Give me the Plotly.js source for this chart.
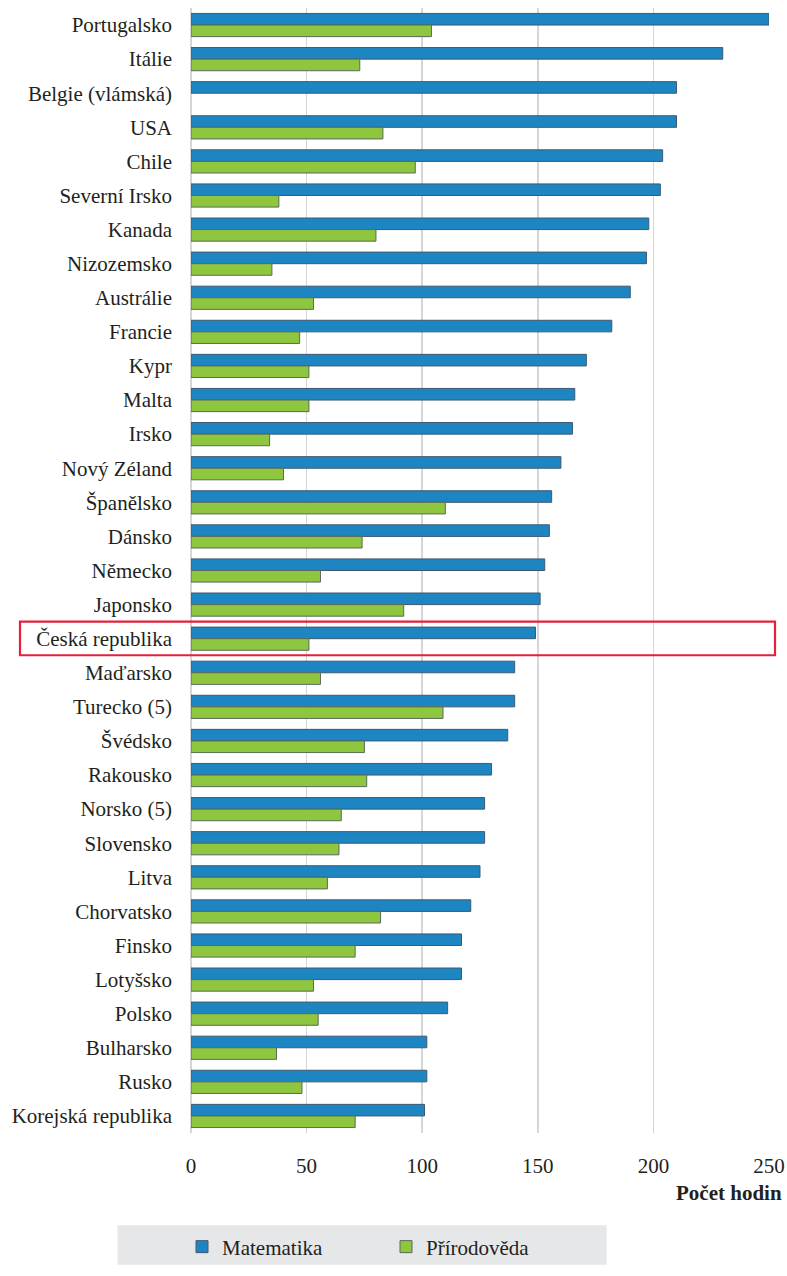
<!DOCTYPE html>
<html>
<head>
<meta charset="utf-8">
<script src="https://cdn.plot.ly/plotly-3.0.1.min.js"></script>
<style>
html,body{margin:0;padding:0;background:#fff;}
#chart{width:787px;height:1276px;}
</style>
</head>
<body>
<div id="chart"></div>
<script>
const countries = ["Portugalsko","Itálie","Belgie (vlámská)","USA","Chile","Severní Irsko","Kanada","Nizozemsko","Austrálie","Francie","Kypr","Malta","Irsko","Nový Zéland","Španělsko","Dánsko","Německo","Japonsko","Česká republika","Maďarsko","Turecko (5)","Švédsko","Rakousko","Norsko (5)","Slovensko","Litva","Chorvatsko","Finsko","Lotyšsko","Polsko","Bulharsko","Rusko","Korejská republika"];
const matematika = [250,230,210,210,204,203,198,197,190,182,171,166,165,160,156,155,153,151,149,140,140,137,130,127,127,125,121,117,117,111,102,102,101];
const prirodoveda = [104,73,null,83,97,38,80,35,53,47,51,51,34,40,110,74,56,92,51,56,109,75,76,65,64,59,82,71,53,55,37,48,71];
const xTicks = [0,50,100,150,200,250];
const seriesNames = ["Matematika","Přírodověda"];
const axisTitle = "Počet hodin";

const FONT = "'Liberation Serif', 'Times New Roman', Times, serif";
const W = 787, H = 1276;
const L = 191, R = 18, T = 8, B = 133;
const PW = W - L - R, PH = H - T - B;
const px2x = X => (X - L) / PW;
const px2y = Y => (H - B - Y) / PH;

const traces = [
  {type:'bar', orientation:'h', name:seriesNames[0], y:countries, x:matematika,
   marker:{color:'#1d86c2', line:{color:'#3e5a72', width:1}}, legend:'legend', hoverinfo:'skip'},
  {type:'bar', orientation:'h', name:seriesNames[1], y:countries, x:prirodoveda,
   marker:{color:'#8fc63f', line:{color:'#5a6a5a', width:1}}, legend:'legend2', hoverinfo:'skip'}
];

const layout = {
  width:W, height:H,
  margin:{l:L, r:R, t:T, b:B, pad:0},
  paper_bgcolor:'#ffffff', plot_bgcolor:'#ffffff',
  font:{family:FONT, size:21, color:'#231f20'},
  barmode:'group', bargap:0.32, bargroupgap:0,
  xaxis:{range:[0,250], tickvals:xTicks, ticktext:xTicks.map(String),
         showgrid:true, gridcolor:'#d6d6d6', gridwidth:1.5,
         zeroline:true, zerolinecolor:'#d6d6d6', zerolinewidth:1.5,
         showline:false, ticks:'', ticklabelstandoff:18,
         tickfont:{family:FONT, size:21, color:'#231f20'}, fixedrange:true},
  yaxis:{type:'category', autorange:'reversed', showgrid:false, zeroline:false,
         showline:false, ticks:'', ticklabelstandoff:18,
         tickfont:{family:FONT, size:21, color:'#231f20'}, fixedrange:true},
  showlegend:true,
  legend:{orientation:'h', x:px2x(182), xanchor:'left', y:px2y(1258), yanchor:'middle',
          bgcolor:'rgba(0,0,0,0)', borderwidth:0, font:{family:FONT, size:21, color:'#231f20'}, itemwidth:30},
  legend2:{orientation:'h', x:px2x(386), xanchor:'left', y:px2y(1258), yanchor:'middle',
          bgcolor:'rgba(0,0,0,0)', borderwidth:0, font:{family:FONT, size:21, color:'#231f20'}, itemwidth:30},
  shapes:[
    {type:'rect', xref:'paper', yref:'paper', layer:'below',
     x0:px2x(117.5), x1:px2x(606.6), y0:px2y(1276), y1:px2y(1236),
     fillcolor:'#e6e7e8', line:{width:0}},
    {type:'rect', xref:'paper', yref:'paper', layer:'above',
     x0:px2x(20), x1:px2x(775), y0:px2y(661), y1:px2y(627),
     fillcolor:'rgba(0,0,0,0)', line:{color:'#e4203c', width:2.2}}
  ],
  annotations:[
    {text:'<b>'+axisTitle+'</b>', xref:'paper', yref:'paper', x:px2x(784), y:px2y(1204),
     xanchor:'right', yanchor:'middle', showarrow:false,
     font:{family:FONT, size:21, color:'#231f20'}}
  ]
};

Plotly.newPlot('chart', traces, layout, {displayModeBar:false, staticPlot:true});
</script>
</body>
</html>
